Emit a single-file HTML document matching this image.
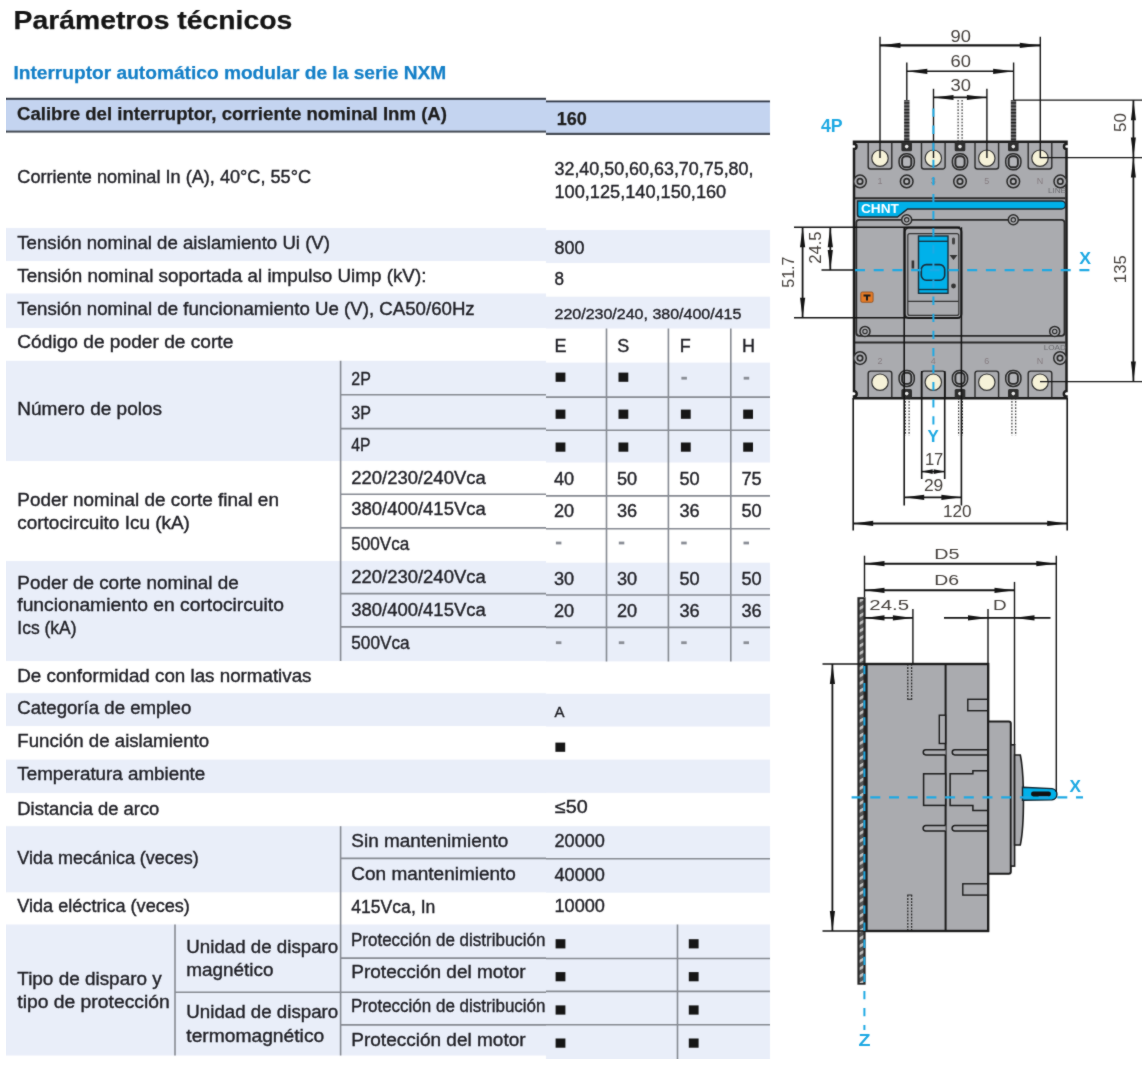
<!DOCTYPE html><html><head><meta charset="utf-8"><style>html,body{margin:0;padding:0;background:#fff;}svg{display:block;}text{font-family:"Liberation Sans",sans-serif;}</style></head><body>
<svg width="1146" height="1068" viewBox="0 0 1146 1068">
<defs><filter id="bl" x="0" y="0" width="1" height="1" color-interpolation-filters="sRGB"><feConvolveMatrix order="3" kernelMatrix="1 2 1 2 20 2 1 2 1" divisor="32" edgeMode="duplicate"/></filter></defs>
<rect width="1146" height="1068" fill="#fff"/>
<g filter="url(#bl)">
<text x="13.5" y="29.3" font-size="26.5" font-weight="700" fill="#151515" stroke="#151515" stroke-width="0.25" textLength="278.8" lengthAdjust="spacingAndGlyphs">Parámetros técnicos</text>
<text x="13.4" y="79.1" font-size="17.5" font-weight="700" fill="#1580c8" stroke="#1580c8" stroke-width="0.25" textLength="432.8" lengthAdjust="spacingAndGlyphs">Interruptor automático modular de la serie NXM</text>
<rect x="6" y="99" width="540" height="32.5" fill="#c4d4f0"/>
<rect x="6" y="97.8" width="540" height="2" fill="#333a46"/>
<rect x="6" y="130.6" width="540" height="2" fill="#454b55"/>
<rect x="6" y="228" width="540" height="33" fill="#e9eef9"/>
<rect x="6" y="293.5" width="540" height="34.5" fill="#e9eef9"/>
<rect x="6" y="360.8" width="540" height="100.19999999999999" fill="#e9eef9"/>
<rect x="6" y="561" width="540" height="100" fill="#e9eef9"/>
<rect x="6" y="693.2" width="540" height="32.799999999999955" fill="#e9eef9"/>
<rect x="6" y="759.6" width="540" height="33.39999999999998" fill="#e9eef9"/>
<rect x="6" y="826.2" width="540" height="66.09999999999991" fill="#e9eef9"/>
<rect x="6" y="924.5" width="540" height="131.0" fill="#e9eef9"/>
<rect x="546" y="101.5" width="224" height="32" fill="#c4d4f0"/>
<rect x="546" y="100.5" width="224" height="1.8" fill="#2f3746"/>
<rect x="546" y="132.8" width="224" height="2.2" fill="#454b55"/>
<rect x="546" y="230" width="224" height="33" fill="#e9eef9"/>
<rect x="546" y="296.7" width="224" height="31.80000000000001" fill="#e9eef9"/>
<rect x="546" y="362.6" width="224" height="99.89999999999998" fill="#e9eef9"/>
<rect x="546" y="562.7" width="224" height="98.69999999999993" fill="#e9eef9"/>
<rect x="546" y="693.8" width="224" height="32.700000000000045" fill="#e9eef9"/>
<rect x="546" y="759.6" width="224" height="33.299999999999955" fill="#e9eef9"/>
<rect x="546" y="826.2" width="224" height="66.5" fill="#e9eef9"/>
<rect x="546" y="924.5" width="224" height="133.79999999999995" fill="#e9eef9"/>
<line x1="340.6" y1="360.8" x2="340.6" y2="661" stroke="#868a92" stroke-width="1.6"/>
<line x1="340.6" y1="826.2" x2="340.6" y2="1055.5" stroke="#868a92" stroke-width="1.6"/>
<line x1="175" y1="924.5" x2="175" y2="1055.5" stroke="#868a92" stroke-width="1.6"/>
<line x1="340" y1="394.7" x2="546" y2="394.7" stroke="#868a92" stroke-width="1.6"/>
<line x1="340" y1="428.6" x2="546" y2="428.6" stroke="#868a92" stroke-width="1.6"/>
<line x1="340" y1="494.3" x2="546" y2="494.3" stroke="#868a92" stroke-width="1.6"/>
<line x1="340" y1="527.9" x2="546" y2="527.9" stroke="#868a92" stroke-width="1.6"/>
<line x1="340" y1="593.6" x2="546" y2="593.6" stroke="#868a92" stroke-width="1.6"/>
<line x1="340" y1="626.9" x2="546" y2="626.9" stroke="#868a92" stroke-width="1.6"/>
<line x1="340" y1="858.4" x2="546" y2="858.4" stroke="#868a92" stroke-width="1.6"/>
<line x1="340" y1="958.1" x2="546" y2="958.1" stroke="#868a92" stroke-width="1.6"/>
<line x1="340" y1="1024.9" x2="546" y2="1024.9" stroke="#868a92" stroke-width="1.6"/>
<line x1="175" y1="992.2" x2="546" y2="992.2" stroke="#868a92" stroke-width="1.6"/>
<line x1="606.5" y1="328.5" x2="606.5" y2="661.4" stroke="#868a92" stroke-width="1.6"/>
<line x1="668.4" y1="328.5" x2="668.4" y2="661.4" stroke="#868a92" stroke-width="1.6"/>
<line x1="730.8" y1="328.5" x2="730.8" y2="661.4" stroke="#868a92" stroke-width="1.6"/>
<line x1="546" y1="397.1" x2="770" y2="397.1" stroke="#868a92" stroke-width="1.6"/>
<line x1="546" y1="430.2" x2="770" y2="430.2" stroke="#868a92" stroke-width="1.6"/>
<line x1="546" y1="495.9" x2="770" y2="495.9" stroke="#868a92" stroke-width="1.6"/>
<line x1="546" y1="528.8" x2="770" y2="528.8" stroke="#868a92" stroke-width="1.6"/>
<line x1="546" y1="595" x2="770" y2="595" stroke="#868a92" stroke-width="1.6"/>
<line x1="546" y1="627.4" x2="770" y2="627.4" stroke="#868a92" stroke-width="1.6"/>
<line x1="546" y1="858.7" x2="770" y2="858.7" stroke="#868a92" stroke-width="1.6"/>
<line x1="546" y1="958.5" x2="770" y2="958.5" stroke="#868a92" stroke-width="1.6"/>
<line x1="546" y1="991.4" x2="770" y2="991.4" stroke="#868a92" stroke-width="1.6"/>
<line x1="546" y1="1024.7" x2="770" y2="1024.7" stroke="#868a92" stroke-width="1.6"/>
<line x1="677.5" y1="924.5" x2="677.5" y2="1058.3" stroke="#868a92" stroke-width="1.6"/>
<text x="17" y="119.8" font-size="17.5" font-weight="700" fill="#1d1d1d" stroke="#1d1d1d" stroke-width="0.25" textLength="430.0" lengthAdjust="spacingAndGlyphs">Calibre del interruptor, corriente nominal Inm (A)</text>
<text x="556.7" y="124.5" font-size="17.5" font-weight="700" fill="#1d1d1d" stroke="#1d1d1d" stroke-width="0.25" textLength="30.1" lengthAdjust="spacingAndGlyphs">160</text>
<text x="17.3" y="183.4" font-size="18" fill="#1f1f25" stroke="#1f1f25" stroke-width="0.38" textLength="293.7" lengthAdjust="spacingAndGlyphs">Corriente nominal In (A), 40°C, 55°C</text>
<text x="17.3" y="248.8" font-size="18" fill="#1f1f25" stroke="#1f1f25" stroke-width="0.38" textLength="312.7" lengthAdjust="spacingAndGlyphs">Tensión nominal de aislamiento Ui (V)</text>
<text x="17.3" y="281.5" font-size="18" fill="#1f1f25" stroke="#1f1f25" stroke-width="0.38" textLength="409.1" lengthAdjust="spacingAndGlyphs">Tensión nominal soportada al impulso Uimp (kV):</text>
<text x="17.3" y="314.6" font-size="18" fill="#1f1f25" stroke="#1f1f25" stroke-width="0.38" textLength="457.4" lengthAdjust="spacingAndGlyphs">Tensión nominal de funcionamiento Ue (V), CA50/60Hz</text>
<text x="17.3" y="348.3" font-size="18" fill="#1f1f25" stroke="#1f1f25" stroke-width="0.38" textLength="216.0" lengthAdjust="spacingAndGlyphs">Código de poder de corte</text>
<text x="17.3" y="415" font-size="18" fill="#1f1f25" stroke="#1f1f25" stroke-width="0.38" textLength="144.7" lengthAdjust="spacingAndGlyphs">Número de polos</text>
<text x="17.3" y="506.2" font-size="18" fill="#1f1f25" stroke="#1f1f25" stroke-width="0.38" textLength="261.6" lengthAdjust="spacingAndGlyphs">Poder nominal de corte final en</text>
<text x="17.3" y="528.7" font-size="18" fill="#1f1f25" stroke="#1f1f25" stroke-width="0.38" textLength="172.6" lengthAdjust="spacingAndGlyphs">cortocircuito Icu (kA)</text>
<text x="17.3" y="588.7" font-size="18" fill="#1f1f25" stroke="#1f1f25" stroke-width="0.38" textLength="221.5" lengthAdjust="spacingAndGlyphs">Poder de corte nominal de</text>
<text x="17.3" y="610.9" font-size="18" fill="#1f1f25" stroke="#1f1f25" stroke-width="0.38" textLength="266.6" lengthAdjust="spacingAndGlyphs">funcionamiento en cortocircuito</text>
<text x="17.3" y="634" font-size="18" fill="#1f1f25" stroke="#1f1f25" stroke-width="0.38" textLength="59.2" lengthAdjust="spacingAndGlyphs">Ics (kA)</text>
<text x="17.3" y="681.7" font-size="18" fill="#1f1f25" stroke="#1f1f25" stroke-width="0.38" textLength="294.2" lengthAdjust="spacingAndGlyphs">De conformidad con las normativas</text>
<text x="17.3" y="714" font-size="18" fill="#1f1f25" stroke="#1f1f25" stroke-width="0.38" textLength="174.0" lengthAdjust="spacingAndGlyphs">Categoría de empleo</text>
<text x="17.3" y="746.6" font-size="18" fill="#1f1f25" stroke="#1f1f25" stroke-width="0.38" textLength="191.8" lengthAdjust="spacingAndGlyphs">Función de aislamiento</text>
<text x="17.3" y="780.1" font-size="18" fill="#1f1f25" stroke="#1f1f25" stroke-width="0.38" textLength="188.0" lengthAdjust="spacingAndGlyphs">Temperatura ambiente</text>
<text x="17.3" y="814.9" font-size="18" fill="#1f1f25" stroke="#1f1f25" stroke-width="0.38" textLength="142.0" lengthAdjust="spacingAndGlyphs">Distancia de arco</text>
<text x="17.3" y="864.1" font-size="18" fill="#1f1f25" stroke="#1f1f25" stroke-width="0.38" textLength="181.5" lengthAdjust="spacingAndGlyphs">Vida mecánica (veces)</text>
<text x="17.3" y="911.6" font-size="18" fill="#1f1f25" stroke="#1f1f25" stroke-width="0.38" textLength="172.6" lengthAdjust="spacingAndGlyphs">Vida eléctrica (veces)</text>
<text x="17.3" y="985.1" font-size="18" fill="#1f1f25" stroke="#1f1f25" stroke-width="0.38" textLength="144.4" lengthAdjust="spacingAndGlyphs">Tipo de disparo y</text>
<text x="17.3" y="1008" font-size="18" fill="#1f1f25" stroke="#1f1f25" stroke-width="0.38" textLength="152.4" lengthAdjust="spacingAndGlyphs">tipo de protección</text>
<text x="351.3" y="385.3" font-size="18" fill="#1f1f25" stroke="#1f1f25" stroke-width="0.38" textLength="19.6" lengthAdjust="spacingAndGlyphs">2P</text>
<text x="351.3" y="419" font-size="18" fill="#1f1f25" stroke="#1f1f25" stroke-width="0.38" textLength="19.7" lengthAdjust="spacingAndGlyphs">3P</text>
<text x="351.3" y="450.5" font-size="18" fill="#1f1f25" stroke="#1f1f25" stroke-width="0.38" textLength="19.2" lengthAdjust="spacingAndGlyphs">4P</text>
<text x="351.3" y="483.6" font-size="18" fill="#1f1f25" stroke="#1f1f25" stroke-width="0.38" textLength="134.4" lengthAdjust="spacingAndGlyphs">220/230/240Vca</text>
<text x="351.3" y="515.1" font-size="18" fill="#1f1f25" stroke="#1f1f25" stroke-width="0.38" textLength="134.4" lengthAdjust="spacingAndGlyphs">380/400/415Vca</text>
<text x="351.3" y="550.1" font-size="18" fill="#1f1f25" stroke="#1f1f25" stroke-width="0.38" textLength="58.0" lengthAdjust="spacingAndGlyphs">500Vca</text>
<text x="351.3" y="583.4" font-size="18" fill="#1f1f25" stroke="#1f1f25" stroke-width="0.38" textLength="134.4" lengthAdjust="spacingAndGlyphs">220/230/240Vca</text>
<text x="351.3" y="616.4" font-size="18" fill="#1f1f25" stroke="#1f1f25" stroke-width="0.38" textLength="134.4" lengthAdjust="spacingAndGlyphs">380/400/415Vca</text>
<text x="351.3" y="648.5" font-size="18" fill="#1f1f25" stroke="#1f1f25" stroke-width="0.38" textLength="58.3" lengthAdjust="spacingAndGlyphs">500Vca</text>
<text x="351.3" y="846.6" font-size="18" fill="#1f1f25" stroke="#1f1f25" stroke-width="0.38" textLength="156.9" lengthAdjust="spacingAndGlyphs">Sin mantenimiento</text>
<text x="351.3" y="879.6" font-size="18" fill="#1f1f25" stroke="#1f1f25" stroke-width="0.38" textLength="164.6" lengthAdjust="spacingAndGlyphs">Con mantenimiento</text>
<text x="351.3" y="913.1" font-size="18" fill="#1f1f25" stroke="#1f1f25" stroke-width="0.38" textLength="84.0" lengthAdjust="spacingAndGlyphs">415Vca, In</text>
<text x="351.3" y="978.2" font-size="18" fill="#1f1f25" stroke="#1f1f25" stroke-width="0.38" textLength="174.3" lengthAdjust="spacingAndGlyphs">Protección del motor</text>
<text x="351.3" y="1046.4" font-size="18" fill="#1f1f25" stroke="#1f1f25" stroke-width="0.38" textLength="174.3" lengthAdjust="spacingAndGlyphs">Protección del motor</text>
<text x="351" y="946.1" font-size="18" fill="#1f1f25" stroke="#1f1f25" stroke-width="0.38" textLength="194.5" lengthAdjust="spacingAndGlyphs">Protección de distribución</text>
<text x="351" y="1012.3" font-size="18" fill="#1f1f25" stroke="#1f1f25" stroke-width="0.38" textLength="194.5" lengthAdjust="spacingAndGlyphs">Protección de distribución</text>
<text x="186.3" y="953.1" font-size="18" fill="#1f1f25" stroke="#1f1f25" stroke-width="0.38" textLength="151.9" lengthAdjust="spacingAndGlyphs">Unidad de disparo</text>
<text x="186.3" y="976" font-size="18" fill="#1f1f25" stroke="#1f1f25" stroke-width="0.38" textLength="87.2" lengthAdjust="spacingAndGlyphs">magnético</text>
<text x="186.3" y="1018.4" font-size="18" fill="#1f1f25" stroke="#1f1f25" stroke-width="0.38" textLength="151.9" lengthAdjust="spacingAndGlyphs">Unidad de disparo</text>
<text x="186.3" y="1042.1" font-size="18" fill="#1f1f25" stroke="#1f1f25" stroke-width="0.38" textLength="137.9" lengthAdjust="spacingAndGlyphs">termomagnético</text>
<text x="554.5" y="175.4" font-size="18" fill="#1f1f25" stroke="#1f1f25" stroke-width="0.38" textLength="199.0" lengthAdjust="spacingAndGlyphs">32,40,50,60,63,70,75,80,</text>
<text x="554.5" y="197.6" font-size="18" fill="#1f1f25" stroke="#1f1f25" stroke-width="0.38" textLength="171.7" lengthAdjust="spacingAndGlyphs">100,125,140,150,160</text>
<text x="554.5" y="253.6" font-size="18" fill="#1f1f25" stroke="#1f1f25" stroke-width="0.38" textLength="29.9" lengthAdjust="spacingAndGlyphs">800</text>
<text x="554.5" y="285.4" font-size="18" fill="#1f1f25" stroke="#1f1f25" stroke-width="0.38" textLength="9.5" lengthAdjust="spacingAndGlyphs">8</text>
<text x="554.5" y="318.7" font-size="15" fill="#1f1f25" stroke="#1f1f25" stroke-width="0.38" textLength="186.9" lengthAdjust="spacingAndGlyphs">220/230/240, 380/400/415</text>
<text x="554.5" y="351.9" font-size="18" fill="#1f1f25" stroke="#1f1f25" stroke-width="0.38">E</text>
<text x="617.3" y="351.9" font-size="18" fill="#1f1f25" stroke="#1f1f25" stroke-width="0.38">S</text>
<text x="679.7" y="351.9" font-size="18" fill="#1f1f25" stroke="#1f1f25" stroke-width="0.38">F</text>
<text x="742.1" y="351.9" font-size="18" fill="#1f1f25" stroke="#1f1f25" stroke-width="0.38">H</text>
<text x="554" y="484.5" font-size="18" fill="#1f1f25" stroke="#1f1f25" stroke-width="0.38" textLength="20.2" lengthAdjust="spacingAndGlyphs">40</text>
<text x="617" y="484.5" font-size="18" fill="#1f1f25" stroke="#1f1f25" stroke-width="0.38" textLength="20.2" lengthAdjust="spacingAndGlyphs">50</text>
<text x="679.5" y="484.5" font-size="18" fill="#1f1f25" stroke="#1f1f25" stroke-width="0.38" textLength="20.2" lengthAdjust="spacingAndGlyphs">50</text>
<text x="741.5" y="484.5" font-size="18" fill="#1f1f25" stroke="#1f1f25" stroke-width="0.38" textLength="20.2" lengthAdjust="spacingAndGlyphs">75</text>
<text x="554" y="517.4" font-size="18" fill="#1f1f25" stroke="#1f1f25" stroke-width="0.38" textLength="20.2" lengthAdjust="spacingAndGlyphs">20</text>
<text x="617" y="517.4" font-size="18" fill="#1f1f25" stroke="#1f1f25" stroke-width="0.38" textLength="20.2" lengthAdjust="spacingAndGlyphs">36</text>
<text x="679.5" y="517.4" font-size="18" fill="#1f1f25" stroke="#1f1f25" stroke-width="0.38" textLength="20.2" lengthAdjust="spacingAndGlyphs">36</text>
<text x="741.5" y="517.4" font-size="18" fill="#1f1f25" stroke="#1f1f25" stroke-width="0.38" textLength="20.2" lengthAdjust="spacingAndGlyphs">50</text>
<text x="554" y="585.4" font-size="18" fill="#1f1f25" stroke="#1f1f25" stroke-width="0.38" textLength="20.2" lengthAdjust="spacingAndGlyphs">30</text>
<text x="617" y="585.4" font-size="18" fill="#1f1f25" stroke="#1f1f25" stroke-width="0.38" textLength="20.2" lengthAdjust="spacingAndGlyphs">30</text>
<text x="679.5" y="585.4" font-size="18" fill="#1f1f25" stroke="#1f1f25" stroke-width="0.38" textLength="20.2" lengthAdjust="spacingAndGlyphs">50</text>
<text x="741.5" y="585.4" font-size="18" fill="#1f1f25" stroke="#1f1f25" stroke-width="0.38" textLength="20.2" lengthAdjust="spacingAndGlyphs">50</text>
<text x="554" y="617.1" font-size="18" fill="#1f1f25" stroke="#1f1f25" stroke-width="0.38" textLength="20.2" lengthAdjust="spacingAndGlyphs">20</text>
<text x="617" y="617.1" font-size="18" fill="#1f1f25" stroke="#1f1f25" stroke-width="0.38" textLength="20.2" lengthAdjust="spacingAndGlyphs">20</text>
<text x="679.5" y="617.1" font-size="18" fill="#1f1f25" stroke="#1f1f25" stroke-width="0.38" textLength="20.2" lengthAdjust="spacingAndGlyphs">36</text>
<text x="741.5" y="617.1" font-size="18" fill="#1f1f25" stroke="#1f1f25" stroke-width="0.38" textLength="20.2" lengthAdjust="spacingAndGlyphs">36</text>
<text x="554.5" y="717.4" font-size="15" fill="#1f1f25" stroke="#1f1f25" stroke-width="0.38">A</text>
<text x="555" y="813.3" font-size="18" fill="#1f1f25" stroke="#1f1f25" stroke-width="0.38" textLength="32.8" lengthAdjust="spacingAndGlyphs">≤50</text>
<text x="554.5" y="847.3" font-size="18" fill="#1f1f25" stroke="#1f1f25" stroke-width="0.38" textLength="50.4" lengthAdjust="spacingAndGlyphs">20000</text>
<text x="554.5" y="881.4" font-size="18" fill="#1f1f25" stroke="#1f1f25" stroke-width="0.38" textLength="50.4" lengthAdjust="spacingAndGlyphs">40000</text>
<text x="554.5" y="912.4" font-size="18" fill="#1f1f25" stroke="#1f1f25" stroke-width="0.38" textLength="50.4" lengthAdjust="spacingAndGlyphs">10000</text>
<rect x="555.6" y="372.6" width="9.8" height="9.2" fill="#161616"/>
<rect x="618.5" y="372.6" width="9.8" height="9.2" fill="#161616"/>
<rect x="681.4" y="376.8" width="5.5" height="2.8" fill="#8a8e96"/>
<rect x="743.7" y="376.8" width="5.5" height="2.8" fill="#8a8e96"/>
<rect x="555.6" y="409.6" width="9.8" height="9.2" fill="#161616"/>
<rect x="618.5" y="409.6" width="9.8" height="9.2" fill="#161616"/>
<rect x="680.9" y="409.6" width="9.8" height="9.2" fill="#161616"/>
<rect x="743.2" y="409.6" width="9.8" height="9.2" fill="#161616"/>
<rect x="555.6" y="442.5" width="9.8" height="9.2" fill="#161616"/>
<rect x="618.5" y="442.5" width="9.8" height="9.2" fill="#161616"/>
<rect x="680.9" y="442.5" width="9.8" height="9.2" fill="#161616"/>
<rect x="743.2" y="442.5" width="9.8" height="9.2" fill="#161616"/>
<rect x="555.9" y="541.6" width="5.5" height="2.8" fill="#8a8e96"/>
<rect x="618.8" y="541.6" width="5.5" height="2.8" fill="#8a8e96"/>
<rect x="681.1999999999999" y="541.6" width="5.5" height="2.8" fill="#8a8e96"/>
<rect x="743.5" y="541.6" width="5.5" height="2.8" fill="#8a8e96"/>
<rect x="555.9" y="641.3" width="5.5" height="2.8" fill="#8a8e96"/>
<rect x="618.8" y="641.3" width="5.5" height="2.8" fill="#8a8e96"/>
<rect x="681.1999999999999" y="641.3" width="5.5" height="2.8" fill="#8a8e96"/>
<rect x="743.5" y="641.3" width="5.5" height="2.8" fill="#8a8e96"/>
<rect x="555.4" y="742.6" width="9.8" height="9.2" fill="#161616"/>
<rect x="555.6" y="939.2" width="9.8" height="9.2" fill="#161616"/>
<rect x="688.8" y="939.2" width="9.8" height="9.2" fill="#161616"/>
<rect x="555.6" y="972.1" width="9.8" height="9.2" fill="#161616"/>
<rect x="688.8" y="972.1" width="9.8" height="9.2" fill="#161616"/>
<rect x="555.6" y="1005.4" width="9.8" height="9.2" fill="#161616"/>
<rect x="688.8" y="1005.4" width="9.8" height="9.2" fill="#161616"/>
<rect x="555.6" y="1038.5" width="9.8" height="9.2" fill="#161616"/>
<rect x="688.8" y="1038.5" width="9.8" height="9.2" fill="#161616"/>
<defs><pattern id="hs" width="6" height="3.3" patternUnits="userSpaceOnUse"><rect width="6" height="3.3" fill="#6d6d6f"/><rect y="0" width="6" height="1.3" fill="#1e1e1e"/></pattern><pattern id="hw" width="4" height="2.2" patternUnits="userSpaceOnUse"><rect width="4" height="2.2" fill="#fafafa"/><rect y="0" width="4" height="0.9" fill="#8a8a8a"/></pattern><pattern id="hp" width="6" height="6.5" patternUnits="userSpaceOnUse" patternTransform="rotate(-30)"><rect width="6" height="6.5" fill="#555"/><rect width="6" height="2.6" fill="#c4c4c4"/></pattern></defs>
<rect x="904.0999999999999" y="100" width="5.4" height="42" fill="url(#hs)"/>
<rect x="1010.8" y="100" width="5.4" height="42" fill="url(#hs)"/>
<rect x="957.5" y="100" width="5.2" height="42" fill="#fbfbfb"/>
<line x1="958.1" y1="100" x2="958.1" y2="142" stroke="#3a3a3a" stroke-width="1.2" stroke-dasharray="1.6 1.5"/>
<line x1="962.1" y1="100" x2="962.1" y2="142" stroke="#3a3a3a" stroke-width="1.2" stroke-dasharray="1.6 1.5"/>
<rect x="904.7" y="398" width="5" height="37.5" fill="#fbfbfb"/>
<line x1="905.3000000000001" y1="398" x2="905.3000000000001" y2="435.5" stroke="#3a3a3a" stroke-width="1.2" stroke-dasharray="1.6 1.5"/>
<line x1="909.1" y1="398" x2="909.1" y2="435.5" stroke="#3a3a3a" stroke-width="1.2" stroke-dasharray="1.6 1.5"/>
<rect x="958.0" y="398" width="5" height="37.5" fill="#fbfbfb"/>
<line x1="958.6" y1="398" x2="958.6" y2="435.5" stroke="#3a3a3a" stroke-width="1.2" stroke-dasharray="1.6 1.5"/>
<line x1="962.4" y1="398" x2="962.4" y2="435.5" stroke="#3a3a3a" stroke-width="1.2" stroke-dasharray="1.6 1.5"/>
<rect x="1011.3" y="398" width="5" height="37.5" fill="#fbfbfb"/>
<line x1="1011.9" y1="398" x2="1011.9" y2="435.5" stroke="#3a3a3a" stroke-width="1.2" stroke-dasharray="1.6 1.5"/>
<line x1="1015.6999999999999" y1="398" x2="1015.6999999999999" y2="435.5" stroke="#3a3a3a" stroke-width="1.2" stroke-dasharray="1.6 1.5"/>
<path d="M854,141.7 H1066.5 V144 a2.5,2.5 0 0 0 0,5 V391 a2.7,2.7 0 0 0 0,5.4 V398.2 H854 V396.4 a2.7,2.7 0 0 0 0,-5.4 V149 a2.5,2.5 0 0 0 0,-5 Z" fill="#aaabaf" stroke="#1c1c1c" stroke-width="2.5"/>
<path d="M868.2,142.5 V166.5 a2.5,2.5 0 0 0 2.5,2.5 H889.3 a2.5,2.5 0 0 0 2.5,-2.5 V142.5" fill="none" stroke="#2a2a2a" stroke-width="1.4"/>
<circle cx="880" cy="158.2" r="8.2" fill="#f6f2d8" stroke="#333" stroke-width="1.2"/>
<path d="M921.5,142.5 V166.5 a2.5,2.5 0 0 0 2.5,2.5 H942.5999999999999 a2.5,2.5 0 0 0 2.5,-2.5 V142.5" fill="none" stroke="#2a2a2a" stroke-width="1.4"/>
<circle cx="933.3" cy="158.2" r="8.2" fill="#f6f2d8" stroke="#333" stroke-width="1.2"/>
<path d="M975.0,142.5 V166.5 a2.5,2.5 0 0 0 2.5,2.5 H996.0999999999999 a2.5,2.5 0 0 0 2.5,-2.5 V142.5" fill="none" stroke="#2a2a2a" stroke-width="1.4"/>
<circle cx="986.8" cy="158.2" r="8.2" fill="#f6f2d8" stroke="#333" stroke-width="1.2"/>
<path d="M1028.2,142.5 V166.5 a2.5,2.5 0 0 0 2.5,2.5 H1049.3 a2.5,2.5 0 0 0 2.5,-2.5 V142.5" fill="none" stroke="#2a2a2a" stroke-width="1.4"/>
<circle cx="1040" cy="158.2" r="8.2" fill="#f6f2d8" stroke="#333" stroke-width="1.2"/>
<rect x="901.4000000000001" y="142" width="10.6" height="9.2" rx="1.5" fill="#2e2e2e"/>
<circle cx="906.7" cy="146.6" r="1.8" fill="#e8e8e8"/>
<rect x="899.1" y="153.8" width="15.2" height="16" rx="7" fill="#aaabaf" stroke="#2a2a2a" stroke-width="1.5"/>
<rect x="902.1" y="156.3" width="9.2" height="11" rx="3.6" fill="#b4b5b9" stroke="#2a2a2a" stroke-width="1.9"/>
<rect x="954.7" y="142" width="10.6" height="9.2" rx="1.5" fill="#2e2e2e"/>
<circle cx="960" cy="146.6" r="1.8" fill="#e8e8e8"/>
<rect x="952.4" y="153.8" width="15.2" height="16" rx="7" fill="#aaabaf" stroke="#2a2a2a" stroke-width="1.5"/>
<rect x="955.4" y="156.3" width="9.2" height="11" rx="3.6" fill="#b4b5b9" stroke="#2a2a2a" stroke-width="1.9"/>
<rect x="1008.0" y="142" width="10.6" height="9.2" rx="1.5" fill="#2e2e2e"/>
<circle cx="1013.3" cy="146.6" r="1.8" fill="#e8e8e8"/>
<rect x="1005.6999999999999" y="153.8" width="15.2" height="16" rx="7" fill="#aaabaf" stroke="#2a2a2a" stroke-width="1.5"/>
<rect x="1008.6999999999999" y="156.3" width="9.2" height="11" rx="3.6" fill="#b4b5b9" stroke="#2a2a2a" stroke-width="1.9"/>
<circle cx="860" cy="181.4" r="6.3" fill="#aaabaf" stroke="#2a2a2a" stroke-width="1.5"/>
<circle cx="860" cy="181.4" r="2.7" fill="#b4b5b9" stroke="#2a2a2a" stroke-width="1.7"/>
<circle cx="906.7" cy="181.4" r="6.3" fill="#aaabaf" stroke="#2a2a2a" stroke-width="1.5"/>
<circle cx="906.7" cy="181.4" r="2.7" fill="#b4b5b9" stroke="#2a2a2a" stroke-width="1.7"/>
<circle cx="960" cy="181.4" r="6.3" fill="#aaabaf" stroke="#2a2a2a" stroke-width="1.5"/>
<circle cx="960" cy="181.4" r="2.7" fill="#b4b5b9" stroke="#2a2a2a" stroke-width="1.7"/>
<circle cx="1013.3" cy="181.4" r="6.3" fill="#aaabaf" stroke="#2a2a2a" stroke-width="1.5"/>
<circle cx="1013.3" cy="181.4" r="2.7" fill="#b4b5b9" stroke="#2a2a2a" stroke-width="1.7"/>
<circle cx="1060.3" cy="181.4" r="6.3" fill="#aaabaf" stroke="#2a2a2a" stroke-width="1.5"/>
<circle cx="1060.3" cy="181.4" r="2.7" fill="#b4b5b9" stroke="#2a2a2a" stroke-width="1.7"/>
<text x="880" y="184" font-size="9" fill="#857c80" text-anchor="middle">1</text>
<text x="933.3" y="184" font-size="9" fill="#857c80" text-anchor="middle">3</text>
<text x="986.8" y="184" font-size="9" fill="#857c80" text-anchor="middle">5</text>
<text x="1040" y="184" font-size="9" fill="#857c80" text-anchor="middle">N</text>
<text x="1048" y="192.6" font-size="8" fill="#6c6c70" textLength="18.0" lengthAdjust="spacingAndGlyphs">LINE</text>
<line x1="855" y1="198.3" x2="1065.5" y2="198.3" stroke="#2a2a2a" stroke-width="2"/>
<path d="M857.5,201 H1061.5 a4,4 0 0 1 0,8 H907.6 L897.4,217 H860 a2.5,2.5 0 0 1 -2.5,-2.5 Z" fill="#00b1ea" stroke="#1d2a33" stroke-width="1.5"/>
<text x="860.9" y="213.2" font-size="12" fill="#ffffff" font-weight="700" textLength="38.0" lengthAdjust="spacingAndGlyphs">CHNT</text>
<rect x="856.3" y="219.8" width="208.2" height="116" rx="3" fill="#aaabaf" stroke="#2a2a2a" stroke-width="1.8"/>
<circle cx="906.7" cy="219.8" r="5" fill="#aaabaf" stroke="#2a2a2a" stroke-width="1.5"/>
<circle cx="906.7" cy="219.8" r="2.2" fill="#aaabaf" stroke="#2a2a2a" stroke-width="1.1"/>
<circle cx="1013.3" cy="219.8" r="5" fill="#aaabaf" stroke="#2a2a2a" stroke-width="1.5"/>
<circle cx="1013.3" cy="219.8" r="2.2" fill="#aaabaf" stroke="#2a2a2a" stroke-width="1.1"/>
<circle cx="865" cy="331.4" r="5" fill="#aaabaf" stroke="#2a2a2a" stroke-width="1.5"/>
<circle cx="865" cy="331.4" r="2.2" fill="#aaabaf" stroke="#2a2a2a" stroke-width="1.1"/>
<circle cx="1054.7" cy="331.4" r="5" fill="#aaabaf" stroke="#2a2a2a" stroke-width="1.5"/>
<circle cx="1054.7" cy="331.4" r="2.2" fill="#aaabaf" stroke="#2a2a2a" stroke-width="1.1"/>
<line x1="855" y1="342.4" x2="1065.5" y2="342.4" stroke="#2a2a2a" stroke-width="2"/>
<rect x="904.8" y="227.7" width="56.6" height="90.3" rx="4" fill="#aaabaf" stroke="#222" stroke-width="2"/>
<rect x="907.8" y="233.7" width="51" height="81.7" rx="2" fill="#aaabaf" stroke="#333" stroke-width="1.2"/>
<line x1="908" y1="301.3" x2="958.6" y2="301.3" stroke="#333" stroke-width="1.2"/>
<rect x="918.5" y="236" width="29.5" height="57.3" fill="#00b1ea" stroke="#17303c" stroke-width="1.4"/>
<line x1="918.5" y1="241.3" x2="948" y2="241.3" stroke="#17303c" stroke-width="1.3"/>
<line x1="918.5" y1="289.5" x2="948" y2="289.5" stroke="#17303c" stroke-width="1.3"/>
<rect x="921.3" y="264.6" width="23.4" height="15.6" rx="5" fill="#00b1ea" stroke="#1a2f3c" stroke-width="1.6"/>
<rect x="952" y="237.5" width="3" height="7" rx="1.5" fill="#444"/>
<polygon points="949.5,255 957.5,255 953.5,260" fill="#333"/>
<circle cx="953.5" cy="286" r="2.4" fill="#333"/>
<rect x="911.6" y="260.5" width="2.6" height="8" fill="#333"/>
<rect x="860.8" y="292" width="12.3" height="10.3" rx="1.5" fill="#e57b27" stroke="#8a4a1c" stroke-width="0.8"/>
<path d="M863.5,294.5 H870.5 V296.5 H868 V300.5 H866 V296.5 H863.5 Z" fill="#1a1a1a"/>
<circle cx="860" cy="358.1" r="6.3" fill="#aaabaf" stroke="#2a2a2a" stroke-width="1.5"/>
<circle cx="860" cy="358.1" r="2.7" fill="#b4b5b9" stroke="#2a2a2a" stroke-width="1.7"/>
<circle cx="1060" cy="358.1" r="6.3" fill="#aaabaf" stroke="#2a2a2a" stroke-width="1.5"/>
<circle cx="1060" cy="358.1" r="2.7" fill="#b4b5b9" stroke="#2a2a2a" stroke-width="1.7"/>
<text x="880" y="364" font-size="9" fill="#857c80" text-anchor="middle">2</text>
<text x="933.3" y="364" font-size="9" fill="#857c80" text-anchor="middle">4</text>
<text x="986.8" y="364" font-size="9" fill="#857c80" text-anchor="middle">6</text>
<text x="1040" y="364" font-size="9" fill="#857c80" text-anchor="middle">N</text>
<text x="1043.7" y="349.5" font-size="8" fill="#6c6c70" textLength="22.3" lengthAdjust="spacingAndGlyphs">LOAD</text>
<path d="M868.2,397.5 V373.6 a2.5,2.5 0 0 1 2.5,-2.5 H889.3 a2.5,2.5 0 0 1 2.5,2.5 V397.5" fill="none" stroke="#2a2a2a" stroke-width="1.4"/>
<circle cx="880" cy="382.2" r="8.2" fill="#f6f2d8" stroke="#333" stroke-width="1.2"/>
<path d="M921.5,397.5 V373.6 a2.5,2.5 0 0 1 2.5,-2.5 H942.5999999999999 a2.5,2.5 0 0 1 2.5,2.5 V397.5" fill="none" stroke="#2a2a2a" stroke-width="1.4"/>
<circle cx="933.3" cy="382.2" r="8.2" fill="#f6f2d8" stroke="#333" stroke-width="1.2"/>
<path d="M975.0,397.5 V373.6 a2.5,2.5 0 0 1 2.5,-2.5 H996.0999999999999 a2.5,2.5 0 0 1 2.5,2.5 V397.5" fill="none" stroke="#2a2a2a" stroke-width="1.4"/>
<circle cx="986.8" cy="382.2" r="8.2" fill="#f6f2d8" stroke="#333" stroke-width="1.2"/>
<path d="M1028.2,397.5 V373.6 a2.5,2.5 0 0 1 2.5,-2.5 H1049.3 a2.5,2.5 0 0 1 2.5,2.5 V397.5" fill="none" stroke="#2a2a2a" stroke-width="1.4"/>
<circle cx="1040" cy="382.2" r="8.2" fill="#f6f2d8" stroke="#333" stroke-width="1.2"/>
<rect x="899.1" y="370.4" width="15.2" height="16" rx="7" fill="#aaabaf" stroke="#2a2a2a" stroke-width="1.5"/>
<rect x="902.1" y="372.9" width="9.2" height="11" rx="3.6" fill="#b4b5b9" stroke="#2a2a2a" stroke-width="1.9"/>
<rect x="901.4000000000001" y="389" width="10.6" height="9.2" rx="1.5" fill="#2e2e2e"/>
<circle cx="906.7" cy="393.6" r="1.8" fill="#e8e8e8"/>
<rect x="952.4" y="370.4" width="15.2" height="16" rx="7" fill="#aaabaf" stroke="#2a2a2a" stroke-width="1.5"/>
<rect x="955.4" y="372.9" width="9.2" height="11" rx="3.6" fill="#b4b5b9" stroke="#2a2a2a" stroke-width="1.9"/>
<rect x="954.7" y="389" width="10.6" height="9.2" rx="1.5" fill="#2e2e2e"/>
<circle cx="960" cy="393.6" r="1.8" fill="#e8e8e8"/>
<rect x="1005.6999999999999" y="370.4" width="15.2" height="16" rx="7" fill="#aaabaf" stroke="#2a2a2a" stroke-width="1.5"/>
<rect x="1008.6999999999999" y="372.9" width="9.2" height="11" rx="3.6" fill="#b4b5b9" stroke="#2a2a2a" stroke-width="1.9"/>
<rect x="1008.0" y="389" width="10.6" height="9.2" rx="1.5" fill="#2e2e2e"/>
<circle cx="1013.3" cy="393.6" r="1.8" fill="#e8e8e8"/>
<line x1="880" y1="36.8" x2="880" y2="158" stroke="#141414" stroke-width="1.4"/>
<line x1="1040.3" y1="36.8" x2="1040.3" y2="158" stroke="#141414" stroke-width="1.4"/>
<line x1="906.8" y1="62.5" x2="906.8" y2="100" stroke="#141414" stroke-width="1.4"/>
<line x1="1013.6" y1="62.5" x2="1013.6" y2="100" stroke="#141414" stroke-width="1.4"/>
<line x1="933.5" y1="88.8" x2="933.5" y2="158" stroke="#141414" stroke-width="1.4"/>
<line x1="986.9" y1="88.8" x2="986.9" y2="158" stroke="#141414" stroke-width="1.4"/>
<line x1="880" y1="45.4" x2="1040.3" y2="45.4" stroke="#141414" stroke-width="2.2"/>
<polygon points="880,45.4 900.50,42.80 900.50,48.00" fill="#141414"/>
<polygon points="1040.3,45.4 1019.80,48.00 1019.80,42.80" fill="#141414"/>
<line x1="906.8" y1="71.3" x2="1013.6" y2="71.3" stroke="#141414" stroke-width="1.6"/>
<polygon points="906.8,71.3 927.30,68.70 927.30,73.90" fill="#141414"/>
<polygon points="1013.6,71.3 993.10,73.90 993.10,68.70" fill="#141414"/>
<line x1="933.5" y1="97.4" x2="986.9" y2="97.4" stroke="#141414" stroke-width="1.8"/>
<polygon points="933.5,97.4 953.50,94.90 953.50,99.90" fill="#141414"/>
<polygon points="986.9,97.4 966.90,99.90 966.90,94.90" fill="#141414"/>
<text x="950.5" y="42.1" font-size="16.8" fill="#45403c" textLength="20.4" lengthAdjust="spacingAndGlyphs">90</text>
<text x="950.5" y="66.8" font-size="16.8" fill="#45403c" textLength="20.4" lengthAdjust="spacingAndGlyphs">60</text>
<text x="950.5" y="90.6" font-size="16.5" fill="#45403c" textLength="20.4" lengthAdjust="spacingAndGlyphs">30</text>
<line x1="1013.6" y1="100.2" x2="1142" y2="100.2" stroke="#141414" stroke-width="1.3"/>
<line x1="1040" y1="157.6" x2="1142" y2="157.6" stroke="#141414" stroke-width="1.3"/>
<line x1="1040" y1="381.6" x2="1142" y2="381.6" stroke="#141414" stroke-width="1.3"/>
<line x1="1133.4" y1="100.2" x2="1133.4" y2="157.6" stroke="#141414" stroke-width="1.8"/>
<polygon points="1133.4,100.2 1135.90,120.20 1130.90,120.20" fill="#141414"/>
<polygon points="1133.4,157.6 1130.90,137.60 1135.90,137.60" fill="#141414"/>
<line x1="1133.4" y1="157.6" x2="1133.4" y2="381.6" stroke="#141414" stroke-width="1.8"/>
<polygon points="1133.4,157.6 1135.90,177.60 1130.90,177.60" fill="#141414"/>
<polygon points="1133.4,381.6 1130.90,361.60 1135.90,361.60" fill="#141414"/>
<text x="1125.8" y="132" font-size="17" fill="#45403c" textLength="18.8" lengthAdjust="spacingAndGlyphs" transform="rotate(-90 1125.8 132)">50</text>
<text x="1125.8" y="283.2" font-size="17" fill="#45403c" textLength="28.0" lengthAdjust="spacingAndGlyphs" transform="rotate(-90 1125.8 283.2)">135</text>
<line x1="794" y1="227.2" x2="960" y2="227.2" stroke="#141414" stroke-width="1.6"/>
<line x1="794" y1="317.8" x2="960" y2="317.8" stroke="#141414" stroke-width="1.6"/>
<line x1="821.5" y1="270.1" x2="854" y2="270.1" stroke="#141414" stroke-width="1.5"/>
<line x1="802.6" y1="227.2" x2="802.6" y2="317.8" stroke="#141414" stroke-width="1.8"/>
<polygon points="802.6,227.2 805.20,247.20 800.00,247.20" fill="#141414"/>
<polygon points="802.6,317.8 800.00,297.80 805.20,297.80" fill="#141414"/>
<line x1="830.3" y1="227.2" x2="830.3" y2="270.1" stroke="#141414" stroke-width="1.8"/>
<polygon points="830.3,227.2 832.90,247.20 827.70,247.20" fill="#141414"/>
<polygon points="830.3,270.1 827.70,250.10 832.90,250.10" fill="#141414"/>
<text x="793.8" y="287.8" font-size="17" fill="#45403c" textLength="31.3" lengthAdjust="spacingAndGlyphs" transform="rotate(-90 793.8 287.8)">51.7</text>
<text x="821.2" y="263.8" font-size="17" fill="#45403c" textLength="32.3" lengthAdjust="spacingAndGlyphs" transform="rotate(-90 821.2 263.8)">24.5</text>
<line x1="921.7" y1="371" x2="921.7" y2="479" stroke="#141414" stroke-width="1.6"/>
<line x1="944.7" y1="371" x2="944.7" y2="479" stroke="#141414" stroke-width="1.6"/>
<line x1="904.2" y1="227.2" x2="904.2" y2="505.5" stroke="#141414" stroke-width="1.6"/>
<line x1="961.4" y1="227.2" x2="961.4" y2="505.5" stroke="#141414" stroke-width="1.6"/>
<line x1="853.2" y1="398" x2="853.2" y2="530.5" stroke="#141414" stroke-width="1.6"/>
<line x1="1067.2" y1="398" x2="1067.2" y2="530.5" stroke="#141414" stroke-width="1.6"/>
<line x1="921.7" y1="471.6" x2="944.7" y2="471.6" stroke="#141414" stroke-width="1.6"/>
<polygon points="921.7,471.6 932.70,469.20 932.70,474.00" fill="#141414"/>
<polygon points="944.7,471.6 933.70,474.00 933.70,469.20" fill="#141414"/>
<line x1="904.2" y1="497.3" x2="961.4" y2="497.3" stroke="#141414" stroke-width="1.8"/>
<polygon points="904.2,497.3 924.20,494.70 924.20,499.90" fill="#141414"/>
<polygon points="961.4,497.3 941.40,499.90 941.40,494.70" fill="#141414"/>
<line x1="853.2" y1="523.4" x2="1067.2" y2="523.4" stroke="#141414" stroke-width="2"/>
<polygon points="853.2,523.4 873.20,520.80 873.20,526.00" fill="#141414"/>
<polygon points="1067.2,523.4 1047.20,526.00 1047.20,520.80" fill="#141414"/>
<text x="924.9" y="465.4" font-size="16" fill="#45403c" textLength="18.4" lengthAdjust="spacingAndGlyphs">17</text>
<text x="923.9" y="491.4" font-size="16" fill="#45403c" textLength="19.4" lengthAdjust="spacingAndGlyphs">29</text>
<text x="943" y="516.8" font-size="16.8" fill="#45403c" textLength="28.6" lengthAdjust="spacingAndGlyphs">120</text>
<line x1="855" y1="270.1" x2="1094.5" y2="270.1" stroke="#1ea9e3" stroke-width="2.2" stroke-dasharray="10 8.7"/>
<line x1="933.4" y1="108.5" x2="933.4" y2="430" stroke="#1ea9e3" stroke-width="2" stroke-dasharray="8.3 8.8"/>
<text x="1079.2" y="264.4" font-size="17" fill="#1ea9e3" font-weight="700" textLength="11.8" lengthAdjust="spacingAndGlyphs">X</text>
<text x="927.5" y="441.6" font-size="17" fill="#1ea9e3" font-weight="700" textLength="11.3" lengthAdjust="spacingAndGlyphs">Y</text>
<text x="820.9" y="131.8" font-size="18" fill="#1ea9e3" font-weight="700" textLength="21.7" lengthAdjust="spacingAndGlyphs">4P</text>
<rect x="857.4" y="597.2" width="8.2" height="387.5" fill="#262626"/>
<rect x="859.6" y="599" width="3.8" height="384" fill="url(#hp)"/>
<rect x="866.3" y="664" width="121.8" height="267" fill="#aaabaf" stroke="#1c1c1c" stroke-width="2.2"/>
<line x1="945.6" y1="664" x2="945.6" y2="931" stroke="#1c1c1c" stroke-width="2"/>
<path d="M988,721.5 H1008.8 a2,2 0 0 1 2,2 V871.7 a2,2 0 0 1 -2,2 H988 Z" fill="#aaabaf" stroke="#1c1c1c" stroke-width="2"/>
<rect x="1010.8" y="744.8" width="3.8" height="121.3" fill="#aaabaf" stroke="#1c1c1c" stroke-width="1.6"/>
<path d="M1014.6,755 H1020.3 C1024.5,775 1024.5,825 1020.3,845 H1014.6 Z" fill="#aaabaf" stroke="#1c1c1c" stroke-width="1.6"/>
<path d="M1022.5,787.3 L1052,788.6 a5.7,5.7 0 0 1 0,11.3 L1022.5,800.2 Z" fill="#00b1ea" stroke="#10232e" stroke-width="1.4"/>
<rect x="1031" y="791.5" width="20" height="5" rx="2.4" fill="#111"/>
<path d="M945.6,749.8 H925.8 a2.5,2.5 0 0 0 0,5.1 H945.6" fill="#aaabaf" stroke="#1c1c1c" stroke-width="1.5"/>
<path d="M945.6,825.6 H925.8 a2.5,2.5 0 0 0 0,5.4 H945.6" fill="#aaabaf" stroke="#1c1c1c" stroke-width="1.5"/>
<rect x="923.6" y="773.8" width="22" height="31.6" fill="#aaabaf" stroke="#1c1c1c" stroke-width="1.5"/>
<rect x="939.3" y="715.2" width="6.3" height="28.3" fill="#aaabaf" stroke="#1c1c1c" stroke-width="1.4"/>
<path d="M988,749.8 H954.8 a2.5,2.5 0 0 0 0,5.1 H988" fill="#aaabaf" stroke="#1c1c1c" stroke-width="1.5"/>
<path d="M988,825.6 H954.8 a2.5,2.5 0 0 0 0,5.4 H988" fill="#aaabaf" stroke="#1c1c1c" stroke-width="1.5"/>
<path d="M988,770.8 H972.9 V773.8 H950.1 V805.4 H972.9 V810.5 H988" fill="#aaabaf" stroke="#1c1c1c" stroke-width="1.5"/>
<rect x="967.8" y="699.3" width="20.2" height="11.4" fill="#aaabaf" stroke="#1c1c1c" stroke-width="1.4"/>
<rect x="962.8" y="883.8" width="25.2" height="11.3" fill="#aaabaf" stroke="#1c1c1c" stroke-width="1.4"/>
<line x1="907.8" y1="664" x2="907.8" y2="699.3" stroke="#2a2a2a" stroke-width="1.3" stroke-dasharray="1.8 1.3"/>
<line x1="911.6" y1="664" x2="911.6" y2="699.3" stroke="#2a2a2a" stroke-width="1.3" stroke-dasharray="1.8 1.3"/>
<line x1="907.2" y1="699.3" x2="912.2" y2="699.3" stroke="#2a2a2a" stroke-width="1.0"/>
<line x1="907.8" y1="895" x2="907.8" y2="931" stroke="#2a2a2a" stroke-width="1.3" stroke-dasharray="1.8 1.3"/>
<line x1="911.6" y1="895" x2="911.6" y2="931" stroke="#2a2a2a" stroke-width="1.3" stroke-dasharray="1.8 1.3"/>
<line x1="907.2" y1="895" x2="912.2" y2="895" stroke="#2a2a2a" stroke-width="1.0"/>
<rect x="866.3" y="664" width="121.8" height="267" fill="none" stroke="#1c1c1c" stroke-width="2.2"/>
<line x1="822.5" y1="664" x2="866" y2="664" stroke="#141414" stroke-width="1.3"/>
<line x1="822.5" y1="931" x2="866" y2="931" stroke="#141414" stroke-width="1.3"/>
<line x1="832.4" y1="664" x2="832.4" y2="931" stroke="#141414" stroke-width="1.8"/>
<polygon points="832.4,664 835.00,684.00 829.80,684.00" fill="#141414"/>
<polygon points="832.4,931 829.80,911.00 835.00,911.00" fill="#141414"/>
<line x1="864.5" y1="555.7" x2="864.5" y2="597" stroke="#141414" stroke-width="1.4"/>
<line x1="1056.3" y1="555.7" x2="1056.3" y2="792" stroke="#141414" stroke-width="1.4"/>
<line x1="1014.5" y1="581.9" x2="1014.5" y2="745" stroke="#141414" stroke-width="1.4"/>
<line x1="912.9" y1="609" x2="912.9" y2="664" stroke="#141414" stroke-width="1.4"/>
<line x1="988" y1="609" x2="988" y2="664" stroke="#141414" stroke-width="1.4"/>
<line x1="864.5" y1="563.7" x2="1056.3" y2="563.7" stroke="#141414" stroke-width="2"/>
<polygon points="864.5,563.7 884.50,561.10 884.50,566.30" fill="#141414"/>
<polygon points="1056.3,563.7 1036.30,566.30 1036.30,561.10" fill="#141414"/>
<line x1="864.5" y1="590.3" x2="1014.5" y2="590.3" stroke="#141414" stroke-width="2"/>
<polygon points="864.5,590.3 884.50,587.70 884.50,592.90" fill="#141414"/>
<polygon points="1014.5,590.3 994.50,592.90 994.50,587.70" fill="#141414"/>
<line x1="864.5" y1="617.9" x2="912.9" y2="617.9" stroke="#141414" stroke-width="1.8"/>
<polygon points="864.5,617.9 884.50,615.30 884.50,620.50" fill="#141414"/>
<polygon points="912.9,617.9 892.90,620.50 892.90,615.30" fill="#141414"/>
<line x1="944" y1="617.9" x2="1050.5" y2="617.9" stroke="#141414" stroke-width="1.8"/>
<polygon points="988,617.9 968.00,620.50 968.00,615.30" fill="#141414"/>
<polygon points="1014.5,617.9 1034.50,615.30 1034.50,620.50" fill="#141414"/>
<text x="934.2" y="559.3" font-size="15.5" fill="#45403c" textLength="25.2" lengthAdjust="spacingAndGlyphs">D5</text>
<text x="934.2" y="585.2" font-size="15.5" fill="#45403c" textLength="24.8" lengthAdjust="spacingAndGlyphs">D6</text>
<text x="869.3" y="610.3" font-size="15.5" fill="#45403c" textLength="39.7" lengthAdjust="spacingAndGlyphs">24.5</text>
<text x="992.9" y="610.3" font-size="15.5" fill="#45403c" textLength="13.6" lengthAdjust="spacingAndGlyphs">D</text>
<line x1="851.6" y1="797.3" x2="1083" y2="797.3" stroke="#1ea9e3" stroke-width="2.2" stroke-dasharray="10 8.7"/>
<line x1="864.4" y1="666" x2="864.4" y2="1030" stroke="#1ea9e3" stroke-width="2" stroke-dasharray="8.3 8.8"/>
<text x="1069.5" y="792" font-size="17" fill="#1ea9e3" font-weight="700" textLength="11.5" lengthAdjust="spacingAndGlyphs">X</text>
<text x="858.5" y="1046.3" font-size="17" fill="#1ea9e3" font-weight="700" textLength="12.0" lengthAdjust="spacingAndGlyphs">Z</text>
</g></svg></body></html>
